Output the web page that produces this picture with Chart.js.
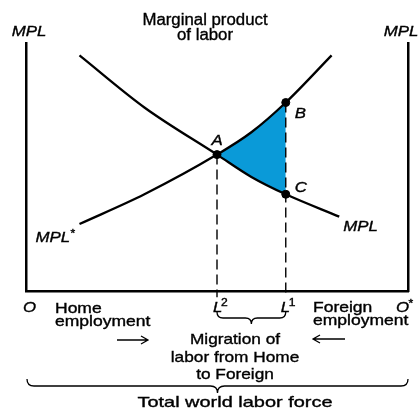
<!DOCTYPE html>
<html>
<head>
<meta charset="utf-8">
<script src="https://cdn.jsdelivr.net/npm/chart.js@4/dist/chart.umd.min.js"></script>
<style>
  html, body { margin: 0; padding: 0; background: #fff; }
  #wrap { width: 419px; height: 409px; }
</style>
</head>
<body>
<div id="wrap"><canvas id="c" width="419" height="409"></canvas></div>
<script>
// ===== データ =====
// labor (0 = O, 100 = O*) and marginal product values
const homeX = [14, 31, 50, 59, 68, 82];
const homeY = [95, 74, 55, 46, 39, 30];
const foreignX = [14, 31, 50, 59, 68, 80];
const foreignY = [27, 39, 55, 64, 76, 95];

// A = crossing, B / C = points at L1
const iA = 2, iL1 = 4;
const L2 = homeX[iA];
const L1 = homeX[iL1];
const dashFloor = -2.5;

const pts = (xs, ys) => xs.map((x, i) => ({ x, y: ys[i] }));
const homePts = pts(homeX, homeY);
const foreignPts = pts(foreignX, foreignY);

const BLUE = "#0a9ad8";
const FONT = '"Liberation Sans", Arial, sans-serif';

// ===== テキスト =====
function txt(ctx, s, x, y, size, o = {}) {
  ctx.save();
  ctx.font = (o.italic ? "italic " : "") + size + "px " + FONT;
  ctx.fillStyle = "#000";
  ctx.strokeStyle = "#000";
  ctx.lineWidth = 0.35;
  ctx.translate(x, y);
  ctx.scale(o.sx || 1.2, 1);
  ctx.textAlign = o.align || "center";
  ctx.textBaseline = "alphabetic";
  ctx.fillText(s, 0, 0);
  ctx.strokeText(s, 0, 0);
  ctx.restore();
}

function brace(ctx, x1, x2, yTop, h) {
  const xm = (x1 + x2) / 2, r = h / 2;
  ctx.beginPath();
  ctx.moveTo(x1, yTop);
  ctx.quadraticCurveTo(x1, yTop + r, x1 + r, yTop + r);
  ctx.lineTo(xm - r, yTop + r);
  ctx.quadraticCurveTo(xm, yTop + r, xm, yTop + 2 * r);
  ctx.quadraticCurveTo(xm, yTop + r, xm + r, yTop + r);
  ctx.lineTo(x2 - r, yTop + r);
  ctx.quadraticCurveTo(x2, yTop + r, x2, yTop);
  ctx.stroke();
}

function arrow(ctx, x1, x2, y) {
  const d = x2 > x1 ? -1 : 1;
  ctx.beginPath();
  ctx.moveTo(x1, y);
  ctx.lineTo(x2, y);
  ctx.moveTo(x2 + d * 7, y - 4);
  ctx.lineTo(x2, y);
  ctx.lineTo(x2 + d * 7, y + 4);
  ctx.stroke();
}

const labels = {
  id: "labels",
  afterDraw(chart) {
    const ctx = chart.ctx;
    const xs = chart.scales.x, ys = chart.scales.y;
    const area = chart.chartArea;
    const px = v => xs.getPixelForValue(v);
    const py = v => ys.getPixelForValue(v);

    txt(ctx, "Marginal product", 205, 25, 16, { sx: 1.05 });
    txt(ctx, "of labor", 205, 40, 16, { sx: 1.05 });
    txt(ctx, "MPL", area.left + 3, 36, 14, { italic: true });
    txt(ctx, "MPL", area.right - 7, 36, 14, { italic: true });

    txt(ctx, "A", px(L2), py(homeY[iA]) - 10, 14, { italic: true });
    txt(ctx, "B", px(L1) + 9, py(foreignY[iL1]) + 15, 14, { italic: true, align: "left" });
    txt(ctx, "C", px(L1) + 9, py(homeY[iL1]) - 2, 14, { italic: true, align: "left" });
    txt(ctx, "MPL", px(homeX[5]) + 4, py(homeY[5]) + 14, 14, { italic: true, align: "left" });
    txt(ctx, "MPL", px(foreignX[0]) - 44, py(foreignY[0]) + 18, 14, { italic: true, align: "left" });
    txt(ctx, "*", px(foreignX[0]) - 9, py(foreignY[0]) + 13, 10, { align: "left" });

    const yb = area.bottom;
    txt(ctx, "O", area.left - 3, yb + 21, 14, { italic: true, align: "left" });
    txt(ctx, "O", area.right - 12, yb + 21, 14, { italic: true, align: "left" });
    txt(ctx, "*", area.right + 0.5, yb + 16, 10, { align: "left" });
    txt(ctx, "L", px(L2) - 4, yb + 21, 14, { italic: true, align: "left" });
    txt(ctx, "2", px(L2) + 4, yb + 15, 11, { align: "left", sx: 1.1 });
    txt(ctx, "L", px(L1) - 5, yb + 21, 14, { italic: true, align: "left" });
    txt(ctx, "1", px(L1) + 3, yb + 15, 11, { align: "left", sx: 1.1 });

    txt(ctx, "Home", 55, yb + 22, 14, { align: "left", sx: 1.25 });
    txt(ctx, "employment", 55, yb + 35, 14, { align: "left", sx: 1.25 });
    txt(ctx, "Foreign", 313, yb + 21, 14, { align: "left", sx: 1.25 });
    txt(ctx, "employment", 313, yb + 34, 14, { align: "left", sx: 1.25 });

    txt(ctx, "Migration of", 235, yb + 53, 15, { sx: 1.15 });
    txt(ctx, "labor from Home", 235, yb + 71, 15, { sx: 1.15 });
    txt(ctx, "to Foreign", 235, yb + 88, 15, { sx: 1.15 });
    txt(ctx, "Total world labor force", 235, 407, 15, { sx: 1.33 });

    ctx.save();
    ctx.strokeStyle = "#000";
    ctx.lineWidth = 1.3;
    brace(ctx, px(L2), px(L1), yb + 21, 12);
    brace(ctx, area.left + 1, area.right, yb + 88, 14);
    arrow(ctx, 117, 148, yb + 49);
    arrow(ctx, 345, 313, yb + 48);
    ctx.restore();
  }
};

// ===== グラフ =====
const axisOpts = (pos) => ({
  type: "linear",
  position: pos,
  min: 0,
  max: 100,
  grid: { display: false, drawTicks: false },
  ticks: { display: false },
  border: { display: true, color: "#000", width: 2.5 }
});

new Chart(document.getElementById("c"), {
  type: "scatter",
  data: {
    datasets: [
      {
        label: "MPL",
        data: homePts,
        showLine: true,
        borderColor: "#000",
        borderWidth: 2.3,
        pointRadius: 0,
        cubicInterpolationMode: "monotone",
        order: 1
      },
      {
        label: "MPL*",
        data: foreignPts,
        showLine: true,
        borderColor: "#000",
        borderWidth: 2.3,
        pointRadius: 0,
        cubicInterpolationMode: "monotone",
        order: 1
      },
      {
        label: "shade-top",
        data: foreignPts.slice(iA, iL1 + 1),
        showLine: true,
        borderWidth: 0,
        borderColor: BLUE,
        backgroundColor: BLUE,
        pointRadius: 0,
        cubicInterpolationMode: "monotone",
        fill: "+1",
        order: 10
      },
      {
        label: "shade-bottom",
        data: homePts.slice(iA, iL1 + 1),
        showLine: true,
        borderWidth: 0,
        borderColor: BLUE,
        pointRadius: 0,
        cubicInterpolationMode: "monotone",
        order: 11
      },
      {
        label: "L2",
        data: [{ x: L2, y: homeY[iA] }, { x: L2, y: dashFloor }],
        showLine: true,
        borderColor: "#000",
        borderWidth: 1.4,
        borderDash: [10, 5],
        pointRadius: 0,
        clip: false,
        order: 2
      },
      {
        label: "L1",
        data: [{ x: L1, y: foreignY[iL1] }, { x: L1, y: dashFloor }],
        showLine: true,
        borderColor: "#000",
        borderWidth: 1.4,
        borderDash: [10, 5],
        pointRadius: 0,
        clip: false,
        order: 2
      },
      {
        label: "points",
        data: [homePts[iA], foreignPts[iL1], homePts[iL1]],
        showLine: false,
        pointRadius: 4,
        pointBackgroundColor: "#000",
        pointBorderColor: "#000",
        order: 0
      }
    ]
  },
  options: {
    responsive: false,
    animation: false,
    events: [],
    layout: { padding: { left: 26, right: 11, top: 43, bottom: 118 } },
    plugins: { legend: { display: false }, tooltip: { enabled: false } },
    scales: {
      x: axisOpts("bottom"),
      y: axisOpts("left"),
      yR: axisOpts("right")
    }
  },
  plugins: [labels]
});
</script>
</body>
</html>
